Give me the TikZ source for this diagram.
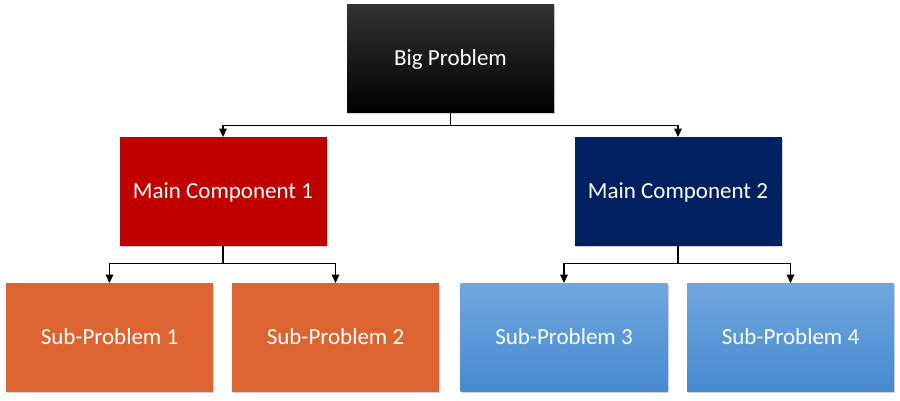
\documentclass[tikz,border=0pt]{standalone}
\usepackage{fontspec}
\setmainfont{Carlito}
\usetikzlibrary{arrows.meta,shadows}
\definecolor{redbox}{HTML}{C00000}
\definecolor{navybox}{HTML}{00205F}
\definecolor{orangebox}{HTML}{DC6430}
\definecolor{bluetop}{HTML}{70A7DE}
\definecolor{bluebot}{HTML}{4789CF}
\definecolor{blacktop}{HTML}{333333}
\tikzset{
  box/.style={rectangle, minimum width=207pt, minimum height=108.5pt, inner sep=0pt,
    text=white, font=\fontsize{23}{27}\selectfont, text height=14.5pt, text depth=0pt,
    drop shadow={opacity=0.35, shadow xshift=1.2pt, shadow yshift=-1.5pt}},
  bigbox/.style={box, top color=blacktop, middle color=black, bottom color=black},
  redb/.style={box, fill=redbox},
  navyb/.style={box, fill=navybox},
  orangeb/.style={box, fill=orangebox},
  blueb/.style={box, top color=bluetop, bottom color=bluebot},
  conn/.style={line width=1.5pt, -{Triangle[length=8.5pt,width=7.5pt]}}
}
\begin{document}
\begin{tikzpicture}[x=1pt,y=-1pt]
\useasboundingbox (0,0) rectangle (900,400);
\fill[white] (0,0) rectangle (900,400);
\node[bigbox] (big) at (450.5,58.5) {Big Problem};
\node[redb] (m1) at (223,191.5) {Main Component 1};
\node[navyb] (m2) at (678,191.5) {Main Component 2};
\node[orangeb] (s1) at (109.5,337.5) {Sub-Problem 1};
\node[orangeb] (s2) at (335.5,337.5) {Sub-Problem 2};
\node[blueb] (s3) at (564,337.5) {Sub-Problem 3};
\node[blueb] (s4) at (790.5,337.5) {Sub-Problem 4};
\draw[conn] (big.south) -- ++(0,12.5) -| (m1.north);
\draw[conn] (big.south) -- ++(0,12.5) -| (m2.north);
\draw[conn] (m1.south) -- ++(0,17.5) -| (s1.north);
\draw[conn] (m1.south) -- ++(0,17.5) -| (s2.north);
\draw[conn] (m2.south) -- ++(0,17.5) -| (s3.north);
\draw[conn] (m2.south) -- ++(0,17.5) -| (s4.north);
\end{tikzpicture}
\end{document}
